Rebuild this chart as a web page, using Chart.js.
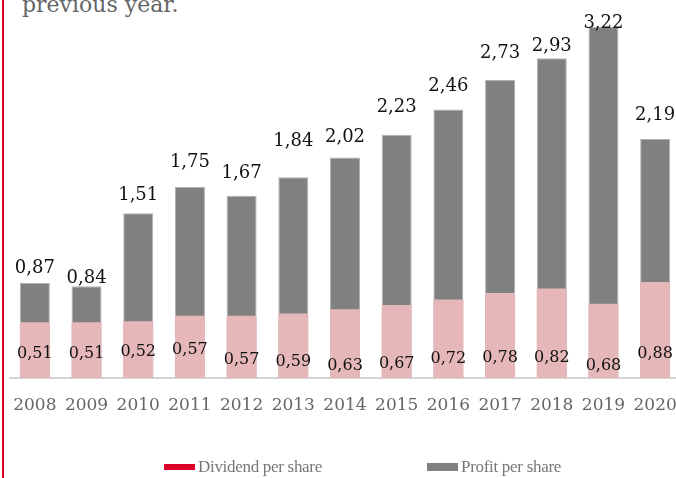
<!DOCTYPE html>
<html>
<head>
<meta charset="utf-8">
<script src="https://cdn.jsdelivr.net/npm/chart.js@4.4.1/dist/chart.umd.min.js"></script>
<style>
  html, body { margin: 0; padding: 0; width: 676px; height: 478px; overflow: hidden; background: #fff; }
  #redline { position: absolute; left: 2px; top: 0; width: 2px; height: 478px; background: #d9002a; }
  #intro { position: absolute; left: 22px; top: -6px; font-family: "DejaVu Serif", serif; font-size: 22px; line-height: 22px; color: #666; white-space: nowrap; }
  #wrap { position: absolute; left: 9px; top: 0; width: 672px; height: 478px; }
  .leg { position: absolute; top: 457px; height: 20px; display: flex; align-items: center; font-family: "Liberation Serif", serif; font-size: 17px; color: #777; white-space: nowrap; letter-spacing: -0.3px; }
  .leg i { display: inline-block; width: 31px; height: 6px; margin-right: 3px; }
</style>
</head>
<body>
<div id="redline"></div>
<div id="intro">previous year.</div>
<div id="wrap"><canvas id="c"></canvas></div>
<div class="leg" id="leg1" style="left:164px"><i style="background:#d9002a"></i><span>Dividend per share</span></div>
<div class="leg" id="leg2" style="left:427px"><i style="background:#808080;height:8px"></i><span>Profit per share</span></div>
<script>
// ---- data ----
const years = ["2008","2009","2010","2011","2012","2013","2014","2015","2016","2017","2018","2019","2020"];
const dividendPerShare = [0.51, 0.51, 0.52, 0.57, 0.57, 0.59, 0.63, 0.67, 0.72, 0.78, 0.82, 0.68, 0.88];
const profitPerShare   = [0.87, 0.84, 1.51, 1.75, 1.67, 1.84, 2.02, 2.23, 2.46, 2.73, 2.93, 3.22, 2.19];
const yMax = 3.4;

// ---- label placement (style only) ----
const profitLabelLift = [17, 10, 20, 27, 24, 38, 22, 29, 25, 29, 14, 5, 26];
const dividendLabelRise = [26, 26, 28, 30, 20, 18, 14, 16, 21, 22, 22, 14, 26];

const fmt = v => v.toFixed(2).replace('.', ',');

const valueLabels = {
  id: 'valueLabels',
  afterDatasetsDraw(chart) {
    const ctx = chart.ctx;
    const area = chart.chartArea;
    ctx.save();
    ctx.textAlign = 'center';
    ctx.textBaseline = 'alphabetic';
    ctx.fillStyle = '#111';
    const pm = chart.getDatasetMeta(1);
    ctx.font = '18px "DejaVu Serif"';
    pm.data.forEach((el, i) => {
      const cy = el.y - profitLabelLift[i];
      ctx.fillText(fmt(profitPerShare[i]), el.x, cy + 18 * 0.365);
    });
    const dm = chart.getDatasetMeta(0);
    ctx.font = '16px "DejaVu Serif"';
    dm.data.forEach((el, i) => {
      const cy = area.bottom - dividendLabelRise[i];
      ctx.fillText(fmt(dividendPerShare[i]), el.x, cy + 16 * 0.365);
    });
    ctx.restore();
  }
};

new Chart(document.getElementById('c'), {
  type: 'bar',
  data: {
    labels: years,
    datasets: [
      {
        label: 'Dividend per share',
        data: dividendPerShare,
        backgroundColor: '#e6b7b8',
        borderWidth: 0,
        grouped: false,
        barPercentage: 0.58,
        categoryPercentage: 1
      },
      {
        label: 'Profit per share',
        data: profitPerShare,
        backgroundColor: '#808080',
        borderColor: '#b0b0b0',
        borderWidth: 1,
        grouped: false,
        barPercentage: 0.58,
        categoryPercentage: 1
      }
    ]
  },
  options: {
    responsive: true,
    maintainAspectRatio: false,
    animation: false,
    layout: { padding: { top: 7, left: 0, right: 0, bottom: 0 } },
    plugins: {
      legend: { display: false },
      tooltip: { enabled: false }
    },
    scales: {
      x: {
        grid: { display: true, drawOnChartArea: false, drawTicks: true, tickLength: 17, color: 'rgba(0,0,0,0)' },
        border: { display: true, color: '#d4d4d4', width: 2 },
        ticks: {
          color: '#666',
          font: { family: '"DejaVu Serif"', size: 17 },
          padding: 0,
          maxRotation: 0,
          autoSkip: false
        },
        afterFit(scale) { scale.height = 100; }
      },
      y: {
        display: false,
        min: 0,
        max: yMax
      }
    }
  },
  plugins: [valueLabels]
});
</script>
</body>
</html>
